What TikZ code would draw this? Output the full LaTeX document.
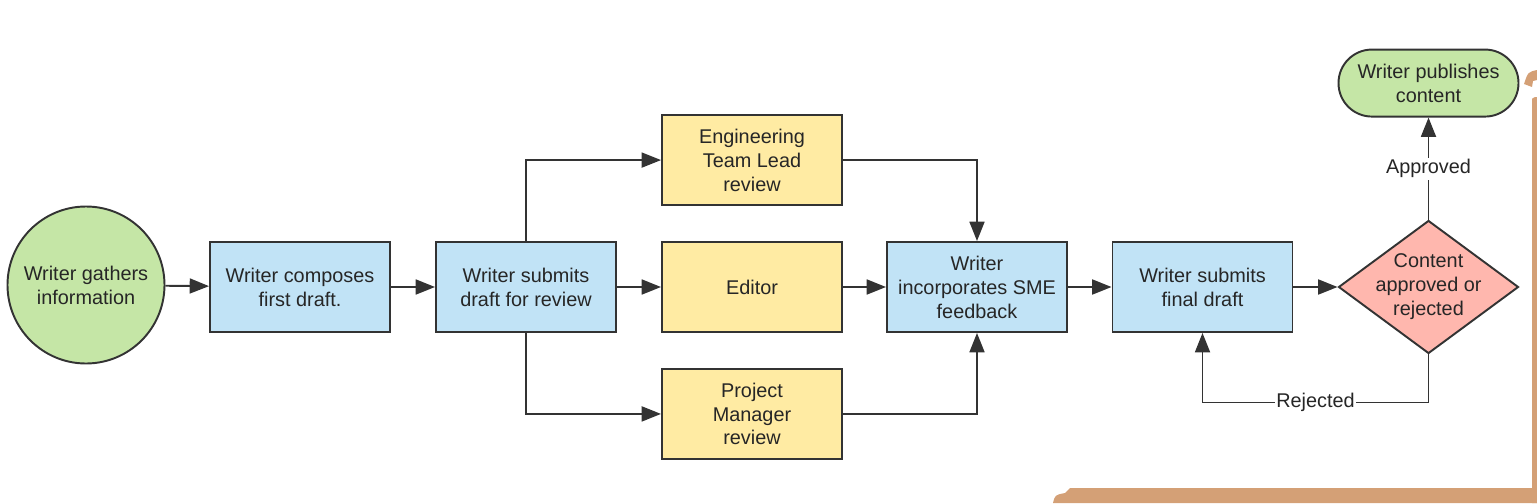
\documentclass[tikz,border=0pt]{standalone}
\usepackage{fontspec}
\setmainfont{Liberation Sans}
\usepackage{tikz}
\usetikzlibrary{shapes.geometric, arrows.meta, positioning}
\definecolor{mydark}{RGB}{51,51,51}
\definecolor{mytext}{RGB}{38,38,38}
\definecolor{hdrgreen}{RGB}{197,230,166}
\definecolor{hdrblue}{RGB}{193,227,246}
\definecolor{hdryellow}{RGB}{255,235,163}
\definecolor{hdrred}{RGB}{255,183,174}
\definecolor{mybrown}{RGB}{212,160,118}
\tikzset{
  block/.style={rectangle, draw=mydark, fill=hdrblue,
    minimum width=3.6cm, minimum height=1.8cm, align=center,
    font=\fontsize{11.3}{13.6}\selectfont, text=mytext, line width=1.1pt},
  revblock/.style={block, fill=hdryellow},
  startnode/.style={circle, draw=mydark, fill=hdrgreen,
    minimum size=3.14cm, align=center, inner sep=0pt,
    font=\fontsize{11.3}{13.6}\selectfont, text=mytext, line width=1.1pt},
  endnode/.style={rectangle, draw=mydark, fill=hdrgreen, rounded corners=19pt,
    minimum width=3.6cm, minimum height=1.34cm, align=center,
    font=\fontsize{11.3}{13.6}\selectfont, text=mytext, line width=1.1pt},
  decision/.style={diamond, draw=mydark, fill=hdrred,
    minimum width=3.6cm, minimum height=2.66cm, inner sep=0pt,
    font=\fontsize{11.3}{13.6}\selectfont, text=mytext, line width=1.1pt},
  arrow/.style={-{Triangle[length=11pt, width=8.5pt]}, line width=1.1pt, color=mydark},
  lbl/.style={fill=white, inner sep=1pt, text=mytext,
    font=\fontsize{11.3}{13.6}\selectfont}
}

\begin{document}
\begin{tikzpicture}
  \useasboundingbox (0,0) rectangle (30.74,10.06);

  % Paper edge
  \fill[mybrown] (30.64,0) -- (30.64,8.02) .. controls (30.64,8.10) .. (30.70,8.12)
    -- (30.74,8.12) -- (30.74,0) -- cycle;
  \fill[mybrown] (21.06,0) .. controls (21.10,0.16) .. (21.30,0.20)
    .. controls (21.36,0.26) .. (21.40,0.30) -- (30.74,0.30) -- (30.74,0) -- cycle;
  \fill[mybrown] (30.48,8.38) .. controls (30.56,8.62) .. (30.74,8.66)
    -- (30.74,8.46) -- (30.66,8.44) -- (30.64,8.32) -- cycle;

  % Main row
  \node[startnode] (gather) at (1.72,4.36) {Writer gathers\\information};
  \node[block] (compose) at (6.00,4.32) {Writer composes\\first draft.};
  \node[block] (submit) at (10.52,4.32) {Writer submits\\draft for review};
  \node[revblock] (editor) at (15.04,4.32) {Editor};
  \node[revblock, above=0.7cm of editor] (englead) {Engineering\\Team Lead\\review};
  \node[revblock, below=0.7cm of editor] (pmreview) {Project\\Manager\\review};
  \node[block] (incorp) at (19.54,4.32) {Writer\\incorporates SME\\feedback};
  \node[block] (final) at (24.05,4.32) {Writer submits\\final draft};
  \node[decision] (check) at (28.57,4.32)
    {\makebox[0pt]{\begin{tabular}{@{}c@{}}Content\\approved or\\rejected\end{tabular}}};
  \node[endnode, above=2.04cm of check] (publish) {Writer publishes\\content};

  % Connectors
  \draw[arrow] (gather) -- (compose);
  \draw[arrow] (compose) -- (submit);
  \draw[arrow] (submit.north) |- (englead.west);
  \draw[arrow] (submit) -- (editor);
  \draw[arrow] (submit.south) |- (pmreview.west);
  \draw[arrow] (englead.east) -| (incorp.north);
  \draw[arrow] (editor) -- (incorp);
  \draw[arrow] (pmreview.east) -| (incorp.south);
  \draw[arrow] (incorp) -- (final);
  \draw[arrow] (final) -- (check);
  \draw[arrow] (check.north) -- node[lbl]{Approved} (publish.south);
  \draw[arrow] (check.south) -- ++(0,-0.96) -| node[lbl, pos=0.25]{Rejected} (final.south);
\end{tikzpicture}
\end{document}
